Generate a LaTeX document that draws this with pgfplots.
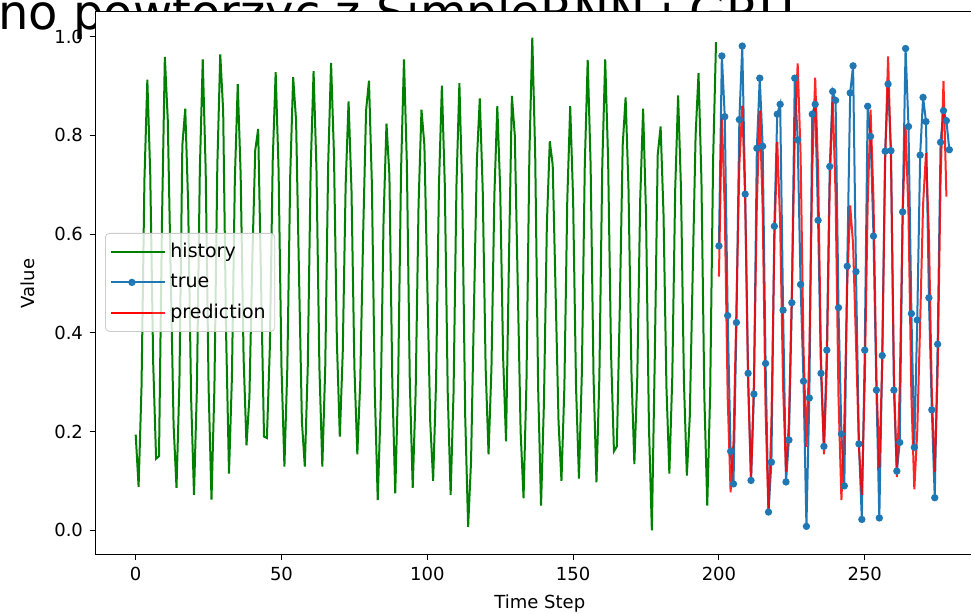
\documentclass[border=0pt]{standalone}
\usepackage{fontspec}
\setmainfont{DejaVu Sans}
\usepackage{pgfplots}
\pgfplotsset{compat=1.18}
\usepackage{pgfplotstable}

\definecolor{hgreen}{HTML}{008000}
\definecolor{tblue}{HTML}{1F77B4}
\definecolor{pred}{HTML}{FF0000}

% history: steps 0..199
\pgfplotstableread{
x y
0 0.194
1 0.088
2 0.29
3 0.71
4 0.913
5 0.72
6 0.34
7 0.145
8 0.150
9 0.62
10 0.959
11 0.832
12 0.522
13 0.213
14 0.086
15 0.30
16 0.78
17 0.854
18 0.66
19 0.27
20 0.072
21 0.29
22 0.73
23 0.954
24 0.73
25 0.29
26 0.062
27 0.29
28 0.74
29 0.964
30 0.85
31 0.40
32 0.115
33 0.31
34 0.71
35 0.904
36 0.72
37 0.35
38 0.172
39 0.27
40 0.55
41 0.77
42 0.813
43 0.50
44 0.19
45 0.187
46 0.37
47 0.75
48 0.928
49 0.73
50 0.33
51 0.129
52 0.33
53 0.72
54 0.918
55 0.83
56 0.52
57 0.22
58 0.129
59 0.33
60 0.73
61 0.930
62 0.73
63 0.33
64 0.129
65 0.33
66 0.74
67 0.947
68 0.76
69 0.38
70 0.190
71 0.36
72 0.70
73 0.869
74 0.69
75 0.33
76 0.154
77 0.30
78 0.60
79 0.85
80 0.911
81 0.70
82 0.28
83 0.061
84 0.25
85 0.63
86 0.824
87 0.72
88 0.30
89 0.075
90 0.30
91 0.73
92 0.954
93 0.74
94 0.30
95 0.086
96 0.28
97 0.66
98 0.852
99 0.78
100 0.50
101 0.22
102 0.100
103 0.30
104 0.70
105 0.901
106 0.70
107 0.28
108 0.072
109 0.28
110 0.70
111 0.906
112 0.68
113 0.23
114 0.007
115 0.14
116 0.45
117 0.75
118 0.875
119 0.69
120 0.33
121 0.154
122 0.33
123 0.68
124 0.859
125 0.69
126 0.35
127 0.180
128 0.55
129 0.880
130 0.80
131 0.50
132 0.20
133 0.065
134 0.30
135 0.76
136 0.998
137 0.76
138 0.29
139 0.050
140 0.26
141 0.62
142 0.788
143 0.74
144 0.48
145 0.22
146 0.100
147 0.29
148 0.67
149 0.859
150 0.67
151 0.29
152 0.105
153 0.32
154 0.74
155 0.953
156 0.74
157 0.31
158 0.097
159 0.31
160 0.74
161 0.954
162 0.75
163 0.36
164 0.160
165 0.170
166 0.45
167 0.78
168 0.877
169 0.69
170 0.32
171 0.134
172 0.31
173 0.67
174 0.854
175 0.64
176 0.21
177 0.000
178 0.35
179 0.76
180 0.818
181 0.64
182 0.29
183 0.115
184 0.31
185 0.69
186 0.881
187 0.69
188 0.30
189 0.111
190 0.23
191 0.52
192 0.80
193 0.926
194 0.71
195 0.27
196 0.050
197 0.28
198 0.75
199 0.989
}\history

% true values: steps 200..279
\pgfplotstableread{
x y
200 0.576
201 0.961
202 0.838
203 0.435
204 0.16
205 0.094
206 0.421
207 0.832
208 0.981
209 0.681
210 0.318
211 0.101
212 0.276
213 0.774
214 0.916
215 0.778
216 0.338
217 0.037
218 0.138
219 0.616
220 0.843
221 0.863
222 0.446
223 0.098
224 0.183
225 0.461
226 0.916
227 0.791
228 0.498
229 0.302
230 0.008
231 0.268
232 0.843
233 0.863
234 0.628
235 0.318
236 0.170
237 0.365
238 0.737
239 0.889
240 0.871
241 0.451
242 0.195
243 0.090
244 0.535
245 0.886
246 0.941
247 0.524
248 0.175
249 0.022
250 0.365
251 0.859
252 0.798
253 0.596
254 0.284
255 0.025
256 0.354
257 0.768
258 0.904
259 0.769
260 0.284
261 0.12
262 0.178
263 0.645
264 0.976
265 0.818
266 0.439
267 0.168
268 0.426
269 0.76
270 0.877
271 0.828
272 0.471
273 0.244
274 0.066
275 0.377
276 0.786
277 0.85
278 0.830
279 0.771
}\truevals

% prediction: steps 200..278
\pgfplotstableread{
x y
200 0.514
201 0.84
202 0.65
203 0.27
204 0.077
205 0.18
206 0.45
207 0.74
208 0.86
209 0.67
210 0.30
211 0.10
212 0.30
213 0.66
214 0.85
215 0.65
216 0.24
217 0.032
218 0.22
219 0.58
220 0.787
221 0.62
222 0.29
223 0.118
224 0.22
225 0.48
226 0.80
227 0.946
228 0.76
229 0.37
230 0.169
231 0.36
232 0.73
233 0.917
234 0.73
235 0.35
236 0.154
237 0.33
238 0.70
239 0.877
240 0.68
241 0.27
242 0.061
243 0.22
244 0.50
245 0.658
246 0.58
247 0.38
248 0.17
249 0.072
250 0.30
251 0.66
252 0.852
253 0.67
254 0.31
255 0.126
256 0.34
257 0.75
258 0.96
259 0.75
260 0.32
261 0.108
262 0.29
263 0.64
264 0.82
265 0.64
266 0.27
267 0.083
268 0.20
269 0.42
270 0.66
271 0.764
272 0.60
273 0.28
274 0.118
275 0.32
276 0.71
277 0.91
278 0.676
}\predvals

\begin{document}
\begin{tikzpicture}
\useasboundingbox (0pt,0pt) rectangle (485.5pt,307pt);
\clip (0pt,0pt) rectangle (485.5pt,307pt);
% heading text of the page, partly hidden behind the axes
\node[anchor=base west, inner sep=0pt, font=\fontsize{24}{28}\selectfont] at (-1pt,292pt) {no powtorzyc z SimpleRNN i GRU};
\begin{axis}[
    at={(47.5pt,29.5pt)}, anchor=south west,
    scale only axis,
    width=447.5pt, height=271.5pt,
    xmin=-13.95, xmax=292.95,
    ymin=-0.05, ymax=1.05,
    axis background/.style={fill=white},
    axis line style={black, line width=0.5pt},
    xtick={0,50,100,150,200,250},
    ytick={0,0.2,0.4,0.6,0.8,1.0},
    xtick pos=bottom, ytick pos=left,
    tick align=outside,
    major tick length=2.5pt,
    tick style={black, line width=0.5pt},
    tick label style={font=\fontsize{9}{10}\selectfont},
    /pgf/number format/assume math mode=true,
    yticklabel style={/pgf/number format/.cd, fixed, fixed zerofill, precision=1},
    xlabel={Time Step}, ylabel={Value},
    label style={font=\fontsize{9}{10}\selectfont},
    xlabel style={at={(axis description cs:0.497,-0.09)}, anchor=center},
    ylabel style={at={(axis description cs:-0.075,0.5)}, anchor=center},
    legend style={at={(axis description cs:0.0112,0.593)}, anchor=north west,
        font=\fontsize{9.5}{10.5}\selectfont, draw=black!20, fill=white, fill opacity=0.8,
        text opacity=1, rounded corners=2pt, row sep=2.7pt,
        inner xsep=2.5pt, inner ysep=3pt},
    legend cell align=left,
    legend image code/.code={
        \path (0pt,0pt) -- (27pt,0pt);
        \draw[mark repeat=2, mark phase=2, #1] plot coordinates {(0pt,0pt) (10.25pt,0pt) (20.5pt,0pt)};},
]
\addplot[hgreen, line width=1pt, no markers] table {\history};
\addlegendentry{history}
\addplot[tblue, line width=1pt, mark=*, mark size=1.3pt, mark options={fill=tblue, draw=tblue}] table {\truevals};
\addlegendentry{true}
\addplot[pred, opacity=0.85, line width=1pt, no markers] table {\predvals};
\addlegendentry{prediction}
\end{axis}
\end{tikzpicture}
\end{document}
